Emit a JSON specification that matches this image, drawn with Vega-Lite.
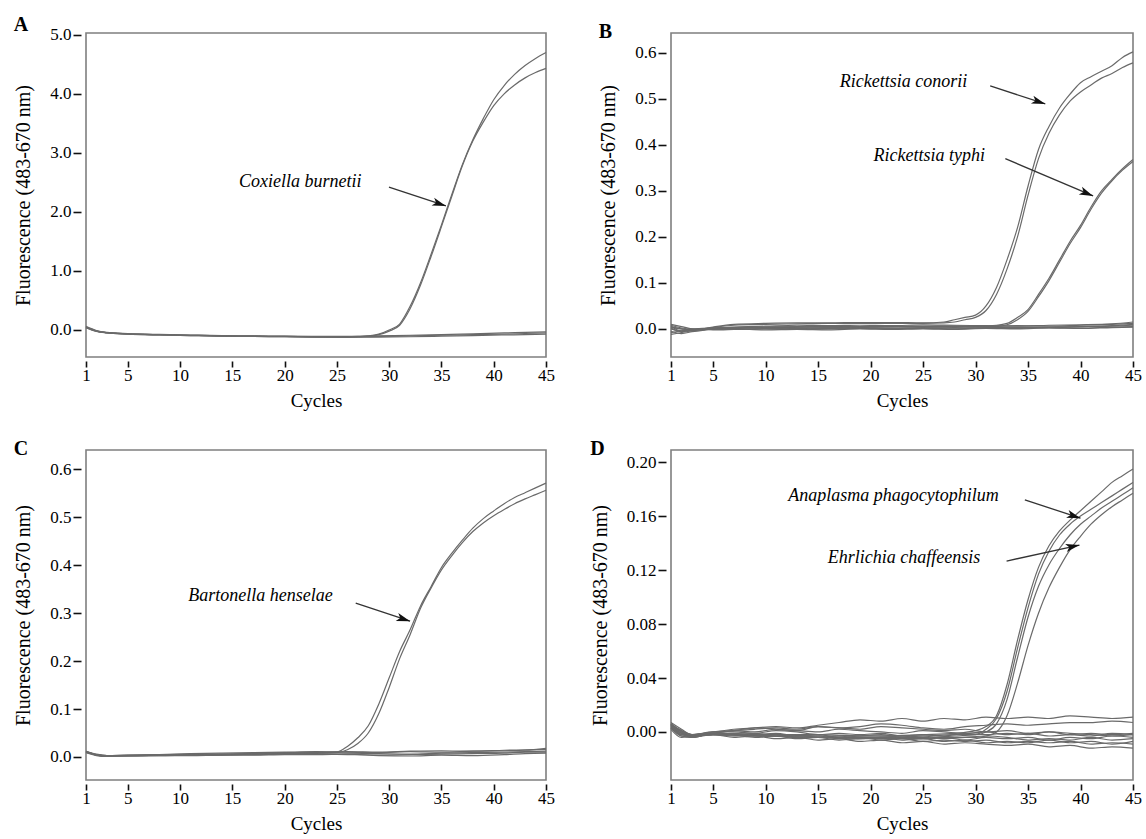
{
"$schema":"https://vega.github.io/schema/vega-lite/v6.json",
"background":"white",
"padding":{"left":12,"top":13,"right":0,"bottom":2},
"columns":2,
"spacing":{"row":27,"column":33},
"config":{
 "font":"Liberation Serif",
 "view":{"stroke":"#7f7f7f","strokeWidth":1.6},
 "axis":{"domain":false,"grid":false,"ticks":true,"tickColor":"#111","tickWidth":1.6,"labelColor":"#000","titleColor":"#000","labelFontSize":17,"titleFontSize":19,"titleFontWeight":"normal","labelFont":"Liberation Serif","titleFont":"Liberation Serif"},
 "axisX":{"tickSize":6,"offset":4,"labelPadding":0,"titlePadding":8,"labelFlush":false},
 "axisY":{"tickSize":8,"offset":5,"labelPadding":2,"titlePadding":16,"titleFontSize":20},
 "title":{"fontSize":20,"fontWeight":"bold","anchor":"start","frame":"bounds","color":"#000","font":"Liberation Serif","offset":-9}
},
"datasets":{
"notes":[
{"p":"A","t":"Coxiella burnetii","c":21.5,"v":2.51},
{"p":"B","t":"Rickettsia conorii","c":23.15,"v":0.537},
{"p":"B","t":"Rickettsia typhi","c":25.6,"v":0.376},
{"p":"C","t":"Bartonella henselae","c":17.7,"v":0.335},
{"p":"D","t":"Anaplasma phagocytophilum","c":22.2,"v":0.175},
{"p":"D","t":"Ehrlichia chaffeensis","c":23.2,"v":0.129}
],
"arrows":[
{"p":"A","id":"a","c":29.98,"v":2.42,"c2":35.43,"v2":2.10},
{"p":"B","id":"b1","c":31.4,"v":0.528,"c2":36.65,"v2":0.489},
{"p":"B","id":"b2","c":32.84,"v":0.37,"c2":41.2,"v2":0.289},
{"p":"C","id":"c","c":26.8,"v":0.321,"c2":32.0,"v2":0.283},
{"p":"D","id":"d1","c":34.7,"v":0.172,"c2":40.0,"v2":0.1585},
{"p":"D","id":"d2","c":32.96,"v":0.1267,"c2":39.9,"v2":0.1385}
],
"curves":[
{"p":"A","s":"A+1","c":1,"v":0.05},{"p":"A","s":"A+1","c":2,"v":-0.02},{"p":"A","s":"A+1","c":3,"v":-0.045},{"p":"A","s":"A+1","c":5,"v":-0.065},{"p":"A","s":"A+1","c":8,"v":-0.08},{"p":"A","s":"A+1","c":11,"v":-0.09},{"p":"A","s":"A+1","c":14,"v":-0.1},{"p":"A","s":"A+1","c":17,"v":-0.105},{"p":"A","s":"A+1","c":20,"v":-0.11},{"p":"A","s":"A+1","c":23,"v":-0.115},{"p":"A","s":"A+1","c":26,"v":-0.115},{"p":"A","s":"A+1","c":27,"v":-0.11},{"p":"A","s":"A+1","c":28,"v":-0.1},{"p":"A","s":"A+1","c":29,"v":-0.07},{"p":"A","s":"A+1","c":30,"v":0},{"p":"A","s":"A+1","c":31,"v":0.1},{"p":"A","s":"A+1","c":32,"v":0.4},{"p":"A","s":"A+1","c":33,"v":0.8},{"p":"A","s":"A+1","c":34,"v":1.28},{"p":"A","s":"A+1","c":35,"v":1.78},{"p":"A","s":"A+1","c":36,"v":2.3},{"p":"A","s":"A+1","c":37,"v":2.8},{"p":"A","s":"A+1","c":38,"v":3.22},{"p":"A","s":"A+1","c":39,"v":3.58},{"p":"A","s":"A+1","c":40,"v":3.9},{"p":"A","s":"A+1","c":41,"v":4.14},{"p":"A","s":"A+1","c":42,"v":4.33},{"p":"A","s":"A+1","c":43,"v":4.48},{"p":"A","s":"A+1","c":44,"v":4.6},{"p":"A","s":"A+1","c":45,"v":4.7},
{"p":"A","s":"A+2","c":1,"v":0.04},{"p":"A","s":"A+2","c":2,"v":-0.025},{"p":"A","s":"A+2","c":3,"v":-0.05},{"p":"A","s":"A+2","c":5,"v":-0.07},{"p":"A","s":"A+2","c":8,"v":-0.085},{"p":"A","s":"A+2","c":11,"v":-0.095},{"p":"A","s":"A+2","c":14,"v":-0.105},{"p":"A","s":"A+2","c":17,"v":-0.11},{"p":"A","s":"A+2","c":20,"v":-0.115},{"p":"A","s":"A+2","c":23,"v":-0.12},{"p":"A","s":"A+2","c":26,"v":-0.12},{"p":"A","s":"A+2","c":27,"v":-0.115},{"p":"A","s":"A+2","c":28,"v":-0.105},{"p":"A","s":"A+2","c":29,"v":-0.08},{"p":"A","s":"A+2","c":30,"v":-0.02},{"p":"A","s":"A+2","c":31,"v":0.08},{"p":"A","s":"A+2","c":32,"v":0.36},{"p":"A","s":"A+2","c":33,"v":0.76},{"p":"A","s":"A+2","c":34,"v":1.24},{"p":"A","s":"A+2","c":35,"v":1.75},{"p":"A","s":"A+2","c":36,"v":2.27},{"p":"A","s":"A+2","c":37,"v":2.78},{"p":"A","s":"A+2","c":38,"v":3.2},{"p":"A","s":"A+2","c":39,"v":3.52},{"p":"A","s":"A+2","c":40,"v":3.8},{"p":"A","s":"A+2","c":41,"v":4.0},{"p":"A","s":"A+2","c":42,"v":4.15},{"p":"A","s":"A+2","c":43,"v":4.27},{"p":"A","s":"A+2","c":44,"v":4.36},{"p":"A","s":"A+2","c":45,"v":4.43},
{"p":"A","s":"a1","c":1,"v":0.06},{"p":"A","s":"a1","c":2,"v":-0.01},{"p":"A","s":"a1","c":3,"v":-0.04},{"p":"A","s":"a1","c":5,"v":-0.06},{"p":"A","s":"a1","c":8,"v":-0.075},{"p":"A","s":"a1","c":11,"v":-0.085},{"p":"A","s":"a1","c":14,"v":-0.095},{"p":"A","s":"a1","c":17,"v":-0.1},{"p":"A","s":"a1","c":20,"v":-0.105},{"p":"A","s":"a1","c":23,"v":-0.11},{"p":"A","s":"a1","c":26,"v":-0.11},{"p":"A","s":"a1","c":29,"v":-0.1},{"p":"A","s":"a1","c":32,"v":-0.09},{"p":"A","s":"a1","c":35,"v":-0.08},{"p":"A","s":"a1","c":38,"v":-0.065},{"p":"A","s":"a1","c":41,"v":-0.05},{"p":"A","s":"a1","c":43,"v":-0.04},{"p":"A","s":"a1","c":45,"v":-0.03},
{"p":"A","s":"a2","c":1,"v":0.04},{"p":"A","s":"a2","c":2,"v":-0.02},{"p":"A","s":"a2","c":3,"v":-0.045},{"p":"A","s":"a2","c":5,"v":-0.065},{"p":"A","s":"a2","c":8,"v":-0.08},{"p":"A","s":"a2","c":11,"v":-0.09},{"p":"A","s":"a2","c":14,"v":-0.1},{"p":"A","s":"a2","c":17,"v":-0.105},{"p":"A","s":"a2","c":20,"v":-0.11},{"p":"A","s":"a2","c":23,"v":-0.115},{"p":"A","s":"a2","c":26,"v":-0.115},{"p":"A","s":"a2","c":29,"v":-0.11},{"p":"A","s":"a2","c":32,"v":-0.1},{"p":"A","s":"a2","c":35,"v":-0.09},{"p":"A","s":"a2","c":38,"v":-0.08},{"p":"A","s":"a2","c":41,"v":-0.07},{"p":"A","s":"a2","c":43,"v":-0.06},{"p":"A","s":"a2","c":45,"v":-0.05},
{"p":"A","s":"a3","c":1,"v":0.05},{"p":"A","s":"a3","c":2,"v":-0.015},{"p":"A","s":"a3","c":3,"v":-0.05},{"p":"A","s":"a3","c":5,"v":-0.07},{"p":"A","s":"a3","c":8,"v":-0.085},{"p":"A","s":"a3","c":11,"v":-0.095},{"p":"A","s":"a3","c":14,"v":-0.105},{"p":"A","s":"a3","c":17,"v":-0.11},{"p":"A","s":"a3","c":20,"v":-0.115},{"p":"A","s":"a3","c":23,"v":-0.12},{"p":"A","s":"a3","c":26,"v":-0.125},{"p":"A","s":"a3","c":29,"v":-0.12},{"p":"A","s":"a3","c":32,"v":-0.115},{"p":"A","s":"a3","c":35,"v":-0.105},{"p":"A","s":"a3","c":38,"v":-0.095},{"p":"A","s":"a3","c":41,"v":-0.085},{"p":"A","s":"a3","c":43,"v":-0.08},{"p":"A","s":"a3","c":45,"v":-0.07},
{"p":"B","s":"B+1","c":1,"v":0.006},{"p":"B","s":"B+1","c":2,"v":-0.004},{"p":"B","s":"B+1","c":3,"v":-0.002},{"p":"B","s":"B+1","c":4,"v":0},{"p":"B","s":"B+1","c":5,"v":0.004},{"p":"B","s":"B+1","c":7,"v":0.01},{"p":"B","s":"B+1","c":10,"v":0.012},{"p":"B","s":"B+1","c":13,"v":0.013},{"p":"B","s":"B+1","c":16,"v":0.013},{"p":"B","s":"B+1","c":19,"v":0.014},{"p":"B","s":"B+1","c":22,"v":0.014},{"p":"B","s":"B+1","c":25,"v":0.013},{"p":"B","s":"B+1","c":27,"v":0.015},{"p":"B","s":"B+1","c":28,"v":0.02},{"p":"B","s":"B+1","c":29,"v":0.025},{"p":"B","s":"B+1","c":30,"v":0.03},{"p":"B","s":"B+1","c":31,"v":0.05},{"p":"B","s":"B+1","c":32,"v":0.09},{"p":"B","s":"B+1","c":33,"v":0.15},{"p":"B","s":"B+1","c":34,"v":0.22},{"p":"B","s":"B+1","c":35,"v":0.31},{"p":"B","s":"B+1","c":36,"v":0.39},{"p":"B","s":"B+1","c":37,"v":0.44},{"p":"B","s":"B+1","c":38,"v":0.48},{"p":"B","s":"B+1","c":39,"v":0.51},{"p":"B","s":"B+1","c":40,"v":0.535},{"p":"B","s":"B+1","c":41,"v":0.548},{"p":"B","s":"B+1","c":42,"v":0.56},{"p":"B","s":"B+1","c":43,"v":0.572},{"p":"B","s":"B+1","c":44,"v":0.59},{"p":"B","s":"B+1","c":45,"v":0.602},
{"p":"B","s":"B+2","c":1,"v":0.002},{"p":"B","s":"B+2","c":2,"v":-0.006},{"p":"B","s":"B+2","c":3,"v":-0.003},{"p":"B","s":"B+2","c":4,"v":0},{"p":"B","s":"B+2","c":5,"v":0.003},{"p":"B","s":"B+2","c":7,"v":0.008},{"p":"B","s":"B+2","c":10,"v":0.01},{"p":"B","s":"B+2","c":13,"v":0.011},{"p":"B","s":"B+2","c":16,"v":0.012},{"p":"B","s":"B+2","c":19,"v":0.012},{"p":"B","s":"B+2","c":22,"v":0.012},{"p":"B","s":"B+2","c":25,"v":0.012},{"p":"B","s":"B+2","c":27,"v":0.013},{"p":"B","s":"B+2","c":28,"v":0.015},{"p":"B","s":"B+2","c":29,"v":0.02},{"p":"B","s":"B+2","c":30,"v":0.025},{"p":"B","s":"B+2","c":31,"v":0.04},{"p":"B","s":"B+2","c":32,"v":0.075},{"p":"B","s":"B+2","c":33,"v":0.13},{"p":"B","s":"B+2","c":34,"v":0.2},{"p":"B","s":"B+2","c":35,"v":0.29},{"p":"B","s":"B+2","c":36,"v":0.37},{"p":"B","s":"B+2","c":37,"v":0.425},{"p":"B","s":"B+2","c":38,"v":0.465},{"p":"B","s":"B+2","c":39,"v":0.495},{"p":"B","s":"B+2","c":40,"v":0.515},{"p":"B","s":"B+2","c":41,"v":0.53},{"p":"B","s":"B+2","c":42,"v":0.545},{"p":"B","s":"B+2","c":43,"v":0.555},{"p":"B","s":"B+2","c":44,"v":0.568},{"p":"B","s":"B+2","c":45,"v":0.578},
{"p":"B","s":"B+3","c":1,"v":0.004},{"p":"B","s":"B+3","c":2,"v":0},{"p":"B","s":"B+3","c":3,"v":-0.002},{"p":"B","s":"B+3","c":5,"v":0.002},{"p":"B","s":"B+3","c":10,"v":0.004},{"p":"B","s":"B+3","c":15,"v":0.005},{"p":"B","s":"B+3","c":20,"v":0.005},{"p":"B","s":"B+3","c":25,"v":0.006},{"p":"B","s":"B+3","c":30,"v":0.006},{"p":"B","s":"B+3","c":32,"v":0.008},{"p":"B","s":"B+3","c":33,"v":0.012},{"p":"B","s":"B+3","c":34,"v":0.025},{"p":"B","s":"B+3","c":35,"v":0.042},{"p":"B","s":"B+3","c":36,"v":0.075},{"p":"B","s":"B+3","c":37,"v":0.11},{"p":"B","s":"B+3","c":38,"v":0.15},{"p":"B","s":"B+3","c":39,"v":0.19},{"p":"B","s":"B+3","c":40,"v":0.225},{"p":"B","s":"B+3","c":41,"v":0.265},{"p":"B","s":"B+3","c":42,"v":0.3},{"p":"B","s":"B+3","c":43,"v":0.325},{"p":"B","s":"B+3","c":44,"v":0.348},{"p":"B","s":"B+3","c":45,"v":0.368},
{"p":"B","s":"B+4","c":1,"v":-0.008},{"p":"B","s":"B+4","c":2,"v":-0.004},{"p":"B","s":"B+4","c":3,"v":-0.001},{"p":"B","s":"B+4","c":5,"v":0.001},{"p":"B","s":"B+4","c":10,"v":0.003},{"p":"B","s":"B+4","c":15,"v":0.004},{"p":"B","s":"B+4","c":20,"v":0.004},{"p":"B","s":"B+4","c":25,"v":0.005},{"p":"B","s":"B+4","c":30,"v":0.005},{"p":"B","s":"B+4","c":32,"v":0.006},{"p":"B","s":"B+4","c":33,"v":0.009},{"p":"B","s":"B+4","c":34,"v":0.02},{"p":"B","s":"B+4","c":35,"v":0.038},{"p":"B","s":"B+4","c":36,"v":0.07},{"p":"B","s":"B+4","c":37,"v":0.105},{"p":"B","s":"B+4","c":38,"v":0.145},{"p":"B","s":"B+4","c":39,"v":0.185},{"p":"B","s":"B+4","c":40,"v":0.22},{"p":"B","s":"B+4","c":41,"v":0.26},{"p":"B","s":"B+4","c":42,"v":0.295},{"p":"B","s":"B+4","c":43,"v":0.322},{"p":"B","s":"B+4","c":44,"v":0.345},{"p":"B","s":"B+4","c":45,"v":0.364},
{"p":"B","s":"b1","c":1,"v":0.01},{"p":"B","s":"b1","c":2,"v":0.005},{"p":"B","s":"b1","c":3,"v":0},{"p":"B","s":"b1","c":4,"v":-0.002},{"p":"B","s":"b1","c":5,"v":0},{"p":"B","s":"b1","c":7,"v":0.001},{"p":"B","s":"b1","c":10,"v":0.002},{"p":"B","s":"b1","c":13,"v":0.001},{"p":"B","s":"b1","c":16,"v":0.002},{"p":"B","s":"b1","c":19,"v":0.003},{"p":"B","s":"b1","c":22,"v":0.002},{"p":"B","s":"b1","c":25,"v":0.003},{"p":"B","s":"b1","c":28,"v":0.002},{"p":"B","s":"b1","c":31,"v":0.003},{"p":"B","s":"b1","c":34,"v":0.004},{"p":"B","s":"b1","c":37,"v":0.003},{"p":"B","s":"b1","c":40,"v":0.005},{"p":"B","s":"b1","c":43,"v":0.006},{"p":"B","s":"b1","c":45,"v":0.008},
{"p":"B","s":"b2","c":1,"v":-0.012},{"p":"B","s":"b2","c":2,"v":-0.008},{"p":"B","s":"b2","c":3,"v":-0.004},{"p":"B","s":"b2","c":4,"v":-0.001},{"p":"B","s":"b2","c":5,"v":0},{"p":"B","s":"b2","c":7,"v":-0.001},{"p":"B","s":"b2","c":10,"v":0},{"p":"B","s":"b2","c":13,"v":-0.001},{"p":"B","s":"b2","c":16,"v":0},{"p":"B","s":"b2","c":19,"v":0.001},{"p":"B","s":"b2","c":22,"v":0},{"p":"B","s":"b2","c":25,"v":0.001},{"p":"B","s":"b2","c":28,"v":0},{"p":"B","s":"b2","c":31,"v":0.002},{"p":"B","s":"b2","c":34,"v":0.001},{"p":"B","s":"b2","c":37,"v":0.003},{"p":"B","s":"b2","c":40,"v":0.002},{"p":"B","s":"b2","c":43,"v":0.004},{"p":"B","s":"b2","c":45,"v":0.005},
{"p":"B","s":"b3","c":1,"v":0.005},{"p":"B","s":"b3","c":2,"v":0},{"p":"B","s":"b3","c":3,"v":-0.003},{"p":"B","s":"b3","c":4,"v":-0.002},{"p":"B","s":"b3","c":5,"v":0.001},{"p":"B","s":"b3","c":7,"v":0.003},{"p":"B","s":"b3","c":10,"v":0.004},{"p":"B","s":"b3","c":13,"v":0.005},{"p":"B","s":"b3","c":16,"v":0.004},{"p":"B","s":"b3","c":19,"v":0.005},{"p":"B","s":"b3","c":22,"v":0.006},{"p":"B","s":"b3","c":25,"v":0.005},{"p":"B","s":"b3","c":28,"v":0.006},{"p":"B","s":"b3","c":31,"v":0.005},{"p":"B","s":"b3","c":34,"v":0.007},{"p":"B","s":"b3","c":37,"v":0.006},{"p":"B","s":"b3","c":40,"v":0.008},{"p":"B","s":"b3","c":43,"v":0.01},{"p":"B","s":"b3","c":45,"v":0.012},
{"p":"B","s":"b4","c":1,"v":-0.005},{"p":"B","s":"b4","c":2,"v":-0.01},{"p":"B","s":"b4","c":3,"v":-0.006},{"p":"B","s":"b4","c":4,"v":-0.003},{"p":"B","s":"b4","c":5,"v":-0.001},{"p":"B","s":"b4","c":7,"v":0},{"p":"B","s":"b4","c":10,"v":-0.002},{"p":"B","s":"b4","c":13,"v":-0.001},{"p":"B","s":"b4","c":16,"v":-0.002},{"p":"B","s":"b4","c":19,"v":0},{"p":"B","s":"b4","c":22,"v":-0.001},{"p":"B","s":"b4","c":25,"v":0},{"p":"B","s":"b4","c":28,"v":-0.001},{"p":"B","s":"b4","c":31,"v":0.001},{"p":"B","s":"b4","c":34,"v":0},{"p":"B","s":"b4","c":37,"v":0.002},{"p":"B","s":"b4","c":40,"v":0.001},{"p":"B","s":"b4","c":43,"v":0.003},{"p":"B","s":"b4","c":45,"v":0.004},
{"p":"B","s":"b5","c":1,"v":0.008},{"p":"B","s":"b5","c":2,"v":0.002},{"p":"B","s":"b5","c":3,"v":0},{"p":"B","s":"b5","c":4,"v":0.001},{"p":"B","s":"b5","c":5,"v":0.002},{"p":"B","s":"b5","c":7,"v":0.004},{"p":"B","s":"b5","c":10,"v":0.006},{"p":"B","s":"b5","c":13,"v":0.008},{"p":"B","s":"b5","c":16,"v":0.007},{"p":"B","s":"b5","c":19,"v":0.008},{"p":"B","s":"b5","c":22,"v":0.007},{"p":"B","s":"b5","c":25,"v":0.009},{"p":"B","s":"b5","c":28,"v":0.008},{"p":"B","s":"b5","c":31,"v":0.007},{"p":"B","s":"b5","c":34,"v":0.006},{"p":"B","s":"b5","c":37,"v":0.008},{"p":"B","s":"b5","c":40,"v":0.009},{"p":"B","s":"b5","c":43,"v":0.011},{"p":"B","s":"b5","c":45,"v":0.015},
{"p":"B","s":"b6","c":1,"v":0},{"p":"B","s":"b6","c":2,"v":-0.005},{"p":"B","s":"b6","c":3,"v":-0.002},{"p":"B","s":"b6","c":4,"v":0},{"p":"B","s":"b6","c":5,"v":-0.002},{"p":"B","s":"b6","c":7,"v":-0.001},{"p":"B","s":"b6","c":10,"v":0.001},{"p":"B","s":"b6","c":13,"v":0},{"p":"B","s":"b6","c":16,"v":0.001},{"p":"B","s":"b6","c":19,"v":0.002},{"p":"B","s":"b6","c":22,"v":0.001},{"p":"B","s":"b6","c":25,"v":0.002},{"p":"B","s":"b6","c":28,"v":0.003},{"p":"B","s":"b6","c":31,"v":0.002},{"p":"B","s":"b6","c":34,"v":0.003},{"p":"B","s":"b6","c":37,"v":0.004},{"p":"B","s":"b6","c":40,"v":0.005},{"p":"B","s":"b6","c":43,"v":0.007},{"p":"B","s":"b6","c":45,"v":0.01},
{"p":"C","s":"C+1","c":1,"v":0.012},{"p":"C","s":"C+1","c":2,"v":0.005},{"p":"C","s":"C+1","c":3,"v":0.003},{"p":"C","s":"C+1","c":5,"v":0.004},{"p":"C","s":"C+1","c":10,"v":0.005},{"p":"C","s":"C+1","c":15,"v":0.006},{"p":"C","s":"C+1","c":20,"v":0.008},{"p":"C","s":"C+1","c":24,"v":0.009},{"p":"C","s":"C+1","c":25,"v":0.01},{"p":"C","s":"C+1","c":26,"v":0.022},{"p":"C","s":"C+1","c":27,"v":0.04},{"p":"C","s":"C+1","c":28,"v":0.065},{"p":"C","s":"C+1","c":29,"v":0.11},{"p":"C","s":"C+1","c":30,"v":0.165},{"p":"C","s":"C+1","c":31,"v":0.22},{"p":"C","s":"C+1","c":32,"v":0.265},{"p":"C","s":"C+1","c":33,"v":0.315},{"p":"C","s":"C+1","c":34,"v":0.355},{"p":"C","s":"C+1","c":35,"v":0.395},{"p":"C","s":"C+1","c":36,"v":0.425},{"p":"C","s":"C+1","c":37,"v":0.452},{"p":"C","s":"C+1","c":38,"v":0.477},{"p":"C","s":"C+1","c":39,"v":0.497},{"p":"C","s":"C+1","c":40,"v":0.513},{"p":"C","s":"C+1","c":41,"v":0.528},{"p":"C","s":"C+1","c":42,"v":0.541},{"p":"C","s":"C+1","c":43,"v":0.551},{"p":"C","s":"C+1","c":44,"v":0.561},{"p":"C","s":"C+1","c":45,"v":0.571},
{"p":"C","s":"C+2","c":1,"v":0.01},{"p":"C","s":"C+2","c":2,"v":0.004},{"p":"C","s":"C+2","c":3,"v":0.002},{"p":"C","s":"C+2","c":5,"v":0.003},{"p":"C","s":"C+2","c":10,"v":0.004},{"p":"C","s":"C+2","c":15,"v":0.005},{"p":"C","s":"C+2","c":20,"v":0.007},{"p":"C","s":"C+2","c":24,"v":0.008},{"p":"C","s":"C+2","c":25,"v":0.009},{"p":"C","s":"C+2","c":26,"v":0.015},{"p":"C","s":"C+2","c":27,"v":0.028},{"p":"C","s":"C+2","c":28,"v":0.05},{"p":"C","s":"C+2","c":29,"v":0.09},{"p":"C","s":"C+2","c":30,"v":0.145},{"p":"C","s":"C+2","c":31,"v":0.205},{"p":"C","s":"C+2","c":32,"v":0.255},{"p":"C","s":"C+2","c":33,"v":0.31},{"p":"C","s":"C+2","c":34,"v":0.352},{"p":"C","s":"C+2","c":35,"v":0.39},{"p":"C","s":"C+2","c":36,"v":0.42},{"p":"C","s":"C+2","c":37,"v":0.447},{"p":"C","s":"C+2","c":38,"v":0.47},{"p":"C","s":"C+2","c":39,"v":0.488},{"p":"C","s":"C+2","c":40,"v":0.503},{"p":"C","s":"C+2","c":41,"v":0.516},{"p":"C","s":"C+2","c":42,"v":0.528},{"p":"C","s":"C+2","c":43,"v":0.538},{"p":"C","s":"C+2","c":44,"v":0.547},{"p":"C","s":"C+2","c":45,"v":0.556},
{"p":"C","s":"c1","c":1,"v":0.012},{"p":"C","s":"c1","c":2,"v":0.006},{"p":"C","s":"c1","c":3,"v":0.003},{"p":"C","s":"c1","c":5,"v":0.003},{"p":"C","s":"c1","c":8,"v":0.004},{"p":"C","s":"c1","c":11,"v":0.005},{"p":"C","s":"c1","c":14,"v":0.006},{"p":"C","s":"c1","c":17,"v":0.007},{"p":"C","s":"c1","c":20,"v":0.008},{"p":"C","s":"c1","c":23,"v":0.009},{"p":"C","s":"c1","c":26,"v":0.008},{"p":"C","s":"c1","c":29,"v":0.007},{"p":"C","s":"c1","c":32,"v":0.006},{"p":"C","s":"c1","c":35,"v":0.008},{"p":"C","s":"c1","c":38,"v":0.009},{"p":"C","s":"c1","c":41,"v":0.01},{"p":"C","s":"c1","c":43,"v":0.011},{"p":"C","s":"c1","c":45,"v":0.012},
{"p":"C","s":"c2","c":1,"v":0.01},{"p":"C","s":"c2","c":2,"v":0.004},{"p":"C","s":"c2","c":3,"v":0.002},{"p":"C","s":"c2","c":5,"v":0.003},{"p":"C","s":"c2","c":8,"v":0.003},{"p":"C","s":"c2","c":11,"v":0.004},{"p":"C","s":"c2","c":14,"v":0.004},{"p":"C","s":"c2","c":17,"v":0.005},{"p":"C","s":"c2","c":20,"v":0.006},{"p":"C","s":"c2","c":23,"v":0.006},{"p":"C","s":"c2","c":26,"v":0.005},{"p":"C","s":"c2","c":29,"v":0.004},{"p":"C","s":"c2","c":32,"v":0.005},{"p":"C","s":"c2","c":35,"v":0.006},{"p":"C","s":"c2","c":38,"v":0.007},{"p":"C","s":"c2","c":41,"v":0.008},{"p":"C","s":"c2","c":43,"v":0.01},{"p":"C","s":"c2","c":45,"v":0.01},
{"p":"C","s":"c3","c":1,"v":0.011},{"p":"C","s":"c3","c":2,"v":0.005},{"p":"C","s":"c3","c":3,"v":0.002},{"p":"C","s":"c3","c":5,"v":0.002},{"p":"C","s":"c3","c":8,"v":0.004},{"p":"C","s":"c3","c":11,"v":0.006},{"p":"C","s":"c3","c":14,"v":0.005},{"p":"C","s":"c3","c":17,"v":0.007},{"p":"C","s":"c3","c":20,"v":0.009},{"p":"C","s":"c3","c":23,"v":0.01},{"p":"C","s":"c3","c":26,"v":0.011},{"p":"C","s":"c3","c":29,"v":0.01},{"p":"C","s":"c3","c":32,"v":0.012},{"p":"C","s":"c3","c":35,"v":0.013},{"p":"C","s":"c3","c":38,"v":0.012},{"p":"C","s":"c3","c":41,"v":0.014},{"p":"C","s":"c3","c":43,"v":0.015},{"p":"C","s":"c3","c":45,"v":0.016},
{"p":"C","s":"c4","c":1,"v":0.009},{"p":"C","s":"c4","c":2,"v":0.003},{"p":"C","s":"c4","c":3,"v":0.001},{"p":"C","s":"c4","c":5,"v":0.002},{"p":"C","s":"c4","c":8,"v":0.003},{"p":"C","s":"c4","c":11,"v":0.003},{"p":"C","s":"c4","c":14,"v":0.004},{"p":"C","s":"c4","c":17,"v":0.004},{"p":"C","s":"c4","c":20,"v":0.005},{"p":"C","s":"c4","c":23,"v":0.005},{"p":"C","s":"c4","c":26,"v":0.006},{"p":"C","s":"c4","c":29,"v":0.003},{"p":"C","s":"c4","c":32,"v":0.002},{"p":"C","s":"c4","c":35,"v":0.004},{"p":"C","s":"c4","c":38,"v":0.003},{"p":"C","s":"c4","c":41,"v":0.005},{"p":"C","s":"c4","c":43,"v":0.007},{"p":"C","s":"c4","c":45,"v":0.008},
{"p":"C","s":"c5","c":1,"v":0.012},{"p":"C","s":"c5","c":2,"v":0.005},{"p":"C","s":"c5","c":3,"v":0.003},{"p":"C","s":"c5","c":5,"v":0.004},{"p":"C","s":"c5","c":8,"v":0.005},{"p":"C","s":"c5","c":11,"v":0.007},{"p":"C","s":"c5","c":14,"v":0.008},{"p":"C","s":"c5","c":17,"v":0.009},{"p":"C","s":"c5","c":20,"v":0.01},{"p":"C","s":"c5","c":23,"v":0.011},{"p":"C","s":"c5","c":26,"v":0.01},{"p":"C","s":"c5","c":29,"v":0.009},{"p":"C","s":"c5","c":32,"v":0.011},{"p":"C","s":"c5","c":35,"v":0.01},{"p":"C","s":"c5","c":38,"v":0.012},{"p":"C","s":"c5","c":41,"v":0.013},{"p":"C","s":"c5","c":43,"v":0.014},{"p":"C","s":"c5","c":45,"v":0.018},
{"p":"D","s":"D+1","c":1,"v":0.006},{"p":"D","s":"D+1","c":2,"v":0},{"p":"D","s":"D+1","c":3,"v":-0.003},{"p":"D","s":"D+1","c":5,"v":-0.001},{"p":"D","s":"D+1","c":10,"v":-0.002},{"p":"D","s":"D+1","c":15,"v":-0.003},{"p":"D","s":"D+1","c":20,"v":-0.003},{"p":"D","s":"D+1","c":25,"v":-0.002},{"p":"D","s":"D+1","c":28,"v":-0.001},{"p":"D","s":"D+1","c":30,"v":0.001},{"p":"D","s":"D+1","c":31,"v":0.004},{"p":"D","s":"D+1","c":32,"v":0.012},{"p":"D","s":"D+1","c":33,"v":0.035},{"p":"D","s":"D+1","c":34,"v":0.068},{"p":"D","s":"D+1","c":35,"v":0.098},{"p":"D","s":"D+1","c":36,"v":0.122},{"p":"D","s":"D+1","c":37,"v":0.138},{"p":"D","s":"D+1","c":38,"v":0.149},{"p":"D","s":"D+1","c":39,"v":0.157},{"p":"D","s":"D+1","c":40,"v":0.164},{"p":"D","s":"D+1","c":41,"v":0.171},{"p":"D","s":"D+1","c":42,"v":0.178},{"p":"D","s":"D+1","c":43,"v":0.185},{"p":"D","s":"D+1","c":44,"v":0.19},{"p":"D","s":"D+1","c":45,"v":0.195},
{"p":"D","s":"D+2","c":1,"v":0.004},{"p":"D","s":"D+2","c":2,"v":-0.002},{"p":"D","s":"D+2","c":3,"v":-0.003},{"p":"D","s":"D+2","c":5,"v":-0.002},{"p":"D","s":"D+2","c":10,"v":-0.003},{"p":"D","s":"D+2","c":15,"v":-0.004},{"p":"D","s":"D+2","c":20,"v":-0.004},{"p":"D","s":"D+2","c":25,"v":-0.004},{"p":"D","s":"D+2","c":28,"v":-0.003},{"p":"D","s":"D+2","c":30,"v":-0.002},{"p":"D","s":"D+2","c":31,"v":0.002},{"p":"D","s":"D+2","c":32,"v":0.01},{"p":"D","s":"D+2","c":33,"v":0.03},{"p":"D","s":"D+2","c":34,"v":0.062},{"p":"D","s":"D+2","c":35,"v":0.092},{"p":"D","s":"D+2","c":36,"v":0.117},{"p":"D","s":"D+2","c":37,"v":0.134},{"p":"D","s":"D+2","c":38,"v":0.146},{"p":"D","s":"D+2","c":39,"v":0.154},{"p":"D","s":"D+2","c":40,"v":0.16},{"p":"D","s":"D+2","c":41,"v":0.165},{"p":"D","s":"D+2","c":42,"v":0.17},{"p":"D","s":"D+2","c":43,"v":0.175},{"p":"D","s":"D+2","c":44,"v":0.18},{"p":"D","s":"D+2","c":45,"v":0.185},
{"p":"D","s":"D+3","c":1,"v":0.005},{"p":"D","s":"D+3","c":2,"v":-0.001},{"p":"D","s":"D+3","c":3,"v":-0.002},{"p":"D","s":"D+3","c":5,"v":-0.001},{"p":"D","s":"D+3","c":10,"v":-0.002},{"p":"D","s":"D+3","c":15,"v":-0.002},{"p":"D","s":"D+3","c":20,"v":-0.003},{"p":"D","s":"D+3","c":25,"v":-0.003},{"p":"D","s":"D+3","c":28,"v":-0.002},{"p":"D","s":"D+3","c":30,"v":-0.002},{"p":"D","s":"D+3","c":31,"v":0},{"p":"D","s":"D+3","c":32,"v":0.006},{"p":"D","s":"D+3","c":33,"v":0.024},{"p":"D","s":"D+3","c":34,"v":0.055},{"p":"D","s":"D+3","c":35,"v":0.085},{"p":"D","s":"D+3","c":36,"v":0.108},{"p":"D","s":"D+3","c":37,"v":0.124},{"p":"D","s":"D+3","c":38,"v":0.136},{"p":"D","s":"D+3","c":39,"v":0.146},{"p":"D","s":"D+3","c":40,"v":0.154},{"p":"D","s":"D+3","c":41,"v":0.16},{"p":"D","s":"D+3","c":42,"v":0.166},{"p":"D","s":"D+3","c":43,"v":0.171},{"p":"D","s":"D+3","c":44,"v":0.176},{"p":"D","s":"D+3","c":45,"v":0.181},
{"p":"D","s":"D+4","c":1,"v":0.003},{"p":"D","s":"D+4","c":2,"v":-0.003},{"p":"D","s":"D+4","c":3,"v":-0.004},{"p":"D","s":"D+4","c":5,"v":-0.002},{"p":"D","s":"D+4","c":10,"v":-0.003},{"p":"D","s":"D+4","c":15,"v":-0.004},{"p":"D","s":"D+4","c":20,"v":-0.005},{"p":"D","s":"D+4","c":25,"v":-0.005},{"p":"D","s":"D+4","c":28,"v":-0.004},{"p":"D","s":"D+4","c":30,"v":-0.004},{"p":"D","s":"D+4","c":31,"v":-0.003},{"p":"D","s":"D+4","c":32,"v":0},{"p":"D","s":"D+4","c":33,"v":0.012},{"p":"D","s":"D+4","c":34,"v":0.036},{"p":"D","s":"D+4","c":35,"v":0.064},{"p":"D","s":"D+4","c":36,"v":0.088},{"p":"D","s":"D+4","c":37,"v":0.107},{"p":"D","s":"D+4","c":38,"v":0.122},{"p":"D","s":"D+4","c":39,"v":0.135},{"p":"D","s":"D+4","c":40,"v":0.145},{"p":"D","s":"D+4","c":41,"v":0.154},{"p":"D","s":"D+4","c":42,"v":0.161},{"p":"D","s":"D+4","c":43,"v":0.167},{"p":"D","s":"D+4","c":44,"v":0.172},{"p":"D","s":"D+4","c":45,"v":0.177},
{"p":"D","s":"n1","c":1,"v":0.006},{"p":"D","s":"n1","c":2,"v":0.001},{"p":"D","s":"n1","c":3,"v":-0.002},{"p":"D","s":"n1","c":5,"v":0},{"p":"D","s":"n1","c":7,"v":0.002},{"p":"D","s":"n1","c":9,"v":0.003},{"p":"D","s":"n1","c":11,"v":0.004},{"p":"D","s":"n1","c":13,"v":0.003},{"p":"D","s":"n1","c":15,"v":0.005},{"p":"D","s":"n1","c":17,"v":0.007},{"p":"D","s":"n1","c":19,"v":0.009},{"p":"D","s":"n1","c":21,"v":0.008},{"p":"D","s":"n1","c":23,"v":0.01},{"p":"D","s":"n1","c":25,"v":0.008},{"p":"D","s":"n1","c":27,"v":0.01},{"p":"D","s":"n1","c":29,"v":0.009},{"p":"D","s":"n1","c":31,"v":0.011},{"p":"D","s":"n1","c":33,"v":0.01},{"p":"D","s":"n1","c":35,"v":0.011},{"p":"D","s":"n1","c":37,"v":0.01},{"p":"D","s":"n1","c":39,"v":0.012},{"p":"D","s":"n1","c":41,"v":0.011},{"p":"D","s":"n1","c":43,"v":0.01},{"p":"D","s":"n1","c":45,"v":0.011},
{"p":"D","s":"n2","c":1,"v":0.004},{"p":"D","s":"n2","c":2,"v":-0.001},{"p":"D","s":"n2","c":3,"v":-0.003},{"p":"D","s":"n2","c":5,"v":-0.001},{"p":"D","s":"n2","c":7,"v":0.001},{"p":"D","s":"n2","c":9,"v":0.003},{"p":"D","s":"n2","c":11,"v":0.002},{"p":"D","s":"n2","c":13,"v":0.001},{"p":"D","s":"n2","c":15,"v":0.004},{"p":"D","s":"n2","c":17,"v":0.003},{"p":"D","s":"n2","c":19,"v":0.004},{"p":"D","s":"n2","c":21,"v":0.006},{"p":"D","s":"n2","c":23,"v":0.005},{"p":"D","s":"n2","c":25,"v":0.003},{"p":"D","s":"n2","c":27,"v":0.002},{"p":"D","s":"n2","c":29,"v":0.004},{"p":"D","s":"n2","c":31,"v":0.005},{"p":"D","s":"n2","c":33,"v":0.006},{"p":"D","s":"n2","c":35,"v":0.005},{"p":"D","s":"n2","c":37,"v":0.006},{"p":"D","s":"n2","c":39,"v":0.007},{"p":"D","s":"n2","c":41,"v":0.007},{"p":"D","s":"n2","c":43,"v":0.008},{"p":"D","s":"n2","c":45,"v":0.007},
{"p":"D","s":"n3","c":1,"v":0.007},{"p":"D","s":"n3","c":2,"v":0.002},{"p":"D","s":"n3","c":3,"v":-0.002},{"p":"D","s":"n3","c":5,"v":0},{"p":"D","s":"n3","c":7,"v":0},{"p":"D","s":"n3","c":9,"v":-0.001},{"p":"D","s":"n3","c":11,"v":0.001},{"p":"D","s":"n3","c":13,"v":0},{"p":"D","s":"n3","c":15,"v":-0.002},{"p":"D","s":"n3","c":17,"v":-0.001},{"p":"D","s":"n3","c":19,"v":-0.002},{"p":"D","s":"n3","c":21,"v":-0.001},{"p":"D","s":"n3","c":23,"v":-0.003},{"p":"D","s":"n3","c":25,"v":-0.002},{"p":"D","s":"n3","c":27,"v":-0.003},{"p":"D","s":"n3","c":29,"v":-0.001},{"p":"D","s":"n3","c":31,"v":-0.002},{"p":"D","s":"n3","c":33,"v":-0.001},{"p":"D","s":"n3","c":35,"v":-0.002},{"p":"D","s":"n3","c":37,"v":0},{"p":"D","s":"n3","c":39,"v":-0.002},{"p":"D","s":"n3","c":41,"v":-0.001},{"p":"D","s":"n3","c":43,"v":-0.002},{"p":"D","s":"n3","c":45,"v":-0.001},
{"p":"D","s":"n4","c":1,"v":0.003},{"p":"D","s":"n4","c":2,"v":-0.003},{"p":"D","s":"n4","c":3,"v":-0.004},{"p":"D","s":"n4","c":5,"v":-0.001},{"p":"D","s":"n4","c":7,"v":-0.002},{"p":"D","s":"n4","c":9,"v":-0.001},{"p":"D","s":"n4","c":11,"v":-0.003},{"p":"D","s":"n4","c":13,"v":-0.002},{"p":"D","s":"n4","c":15,"v":-0.004},{"p":"D","s":"n4","c":17,"v":-0.003},{"p":"D","s":"n4","c":19,"v":-0.005},{"p":"D","s":"n4","c":21,"v":-0.004},{"p":"D","s":"n4","c":23,"v":-0.003},{"p":"D","s":"n4","c":25,"v":-0.005},{"p":"D","s":"n4","c":27,"v":-0.004},{"p":"D","s":"n4","c":29,"v":-0.006},{"p":"D","s":"n4","c":31,"v":-0.004},{"p":"D","s":"n4","c":33,"v":-0.005},{"p":"D","s":"n4","c":35,"v":-0.004},{"p":"D","s":"n4","c":37,"v":-0.006},{"p":"D","s":"n4","c":39,"v":-0.004},{"p":"D","s":"n4","c":41,"v":-0.005},{"p":"D","s":"n4","c":43,"v":-0.003},{"p":"D","s":"n4","c":45,"v":-0.004},
{"p":"D","s":"n5","c":1,"v":0.005},{"p":"D","s":"n5","c":2,"v":0},{"p":"D","s":"n5","c":3,"v":-0.003},{"p":"D","s":"n5","c":5,"v":-0.002},{"p":"D","s":"n5","c":7,"v":-0.001},{"p":"D","s":"n5","c":9,"v":-0.003},{"p":"D","s":"n5","c":11,"v":-0.002},{"p":"D","s":"n5","c":13,"v":-0.004},{"p":"D","s":"n5","c":15,"v":-0.003},{"p":"D","s":"n5","c":17,"v":-0.005},{"p":"D","s":"n5","c":19,"v":-0.004},{"p":"D","s":"n5","c":21,"v":-0.006},{"p":"D","s":"n5","c":23,"v":-0.005},{"p":"D","s":"n5","c":25,"v":-0.007},{"p":"D","s":"n5","c":27,"v":-0.006},{"p":"D","s":"n5","c":29,"v":-0.007},{"p":"D","s":"n5","c":31,"v":-0.006},{"p":"D","s":"n5","c":33,"v":-0.008},{"p":"D","s":"n5","c":35,"v":-0.007},{"p":"D","s":"n5","c":37,"v":-0.008},{"p":"D","s":"n5","c":39,"v":-0.007},{"p":"D","s":"n5","c":41,"v":-0.009},{"p":"D","s":"n5","c":43,"v":-0.008},{"p":"D","s":"n5","c":45,"v":-0.009},
{"p":"D","s":"n6","c":1,"v":0.002},{"p":"D","s":"n6","c":2,"v":-0.004},{"p":"D","s":"n6","c":3,"v":-0.003},{"p":"D","s":"n6","c":5,"v":-0.002},{"p":"D","s":"n6","c":7,"v":-0.004},{"p":"D","s":"n6","c":9,"v":-0.003},{"p":"D","s":"n6","c":11,"v":-0.005},{"p":"D","s":"n6","c":13,"v":-0.004},{"p":"D","s":"n6","c":15,"v":-0.006},{"p":"D","s":"n6","c":17,"v":-0.005},{"p":"D","s":"n6","c":19,"v":-0.007},{"p":"D","s":"n6","c":21,"v":-0.006},{"p":"D","s":"n6","c":23,"v":-0.008},{"p":"D","s":"n6","c":25,"v":-0.007},{"p":"D","s":"n6","c":27,"v":-0.009},{"p":"D","s":"n6","c":29,"v":-0.008},{"p":"D","s":"n6","c":31,"v":-0.009},{"p":"D","s":"n6","c":33,"v":-0.01},{"p":"D","s":"n6","c":35,"v":-0.009},{"p":"D","s":"n6","c":37,"v":-0.011},{"p":"D","s":"n6","c":39,"v":-0.01},{"p":"D","s":"n6","c":41,"v":-0.012},{"p":"D","s":"n6","c":43,"v":-0.011},{"p":"D","s":"n6","c":45,"v":-0.012},
{"p":"D","s":"n7","c":1,"v":0.006},{"p":"D","s":"n7","c":2,"v":0.001},{"p":"D","s":"n7","c":3,"v":-0.002},{"p":"D","s":"n7","c":5,"v":-0.001},{"p":"D","s":"n7","c":7,"v":0.001},{"p":"D","s":"n7","c":9,"v":0},{"p":"D","s":"n7","c":11,"v":0.002},{"p":"D","s":"n7","c":13,"v":0.001},{"p":"D","s":"n7","c":15,"v":0},{"p":"D","s":"n7","c":17,"v":0.002},{"p":"D","s":"n7","c":19,"v":0.001},{"p":"D","s":"n7","c":21,"v":0},{"p":"D","s":"n7","c":23,"v":-0.001},{"p":"D","s":"n7","c":25,"v":0.001},{"p":"D","s":"n7","c":27,"v":0},{"p":"D","s":"n7","c":29,"v":-0.001},{"p":"D","s":"n7","c":31,"v":0},{"p":"D","s":"n7","c":33,"v":-0.002},{"p":"D","s":"n7","c":35,"v":-0.001},{"p":"D","s":"n7","c":37,"v":-0.003},{"p":"D","s":"n7","c":39,"v":-0.002},{"p":"D","s":"n7","c":41,"v":-0.003},{"p":"D","s":"n7","c":43,"v":-0.001},{"p":"D","s":"n7","c":45,"v":-0.002},
{"p":"D","s":"n8","c":1,"v":0.004},{"p":"D","s":"n8","c":2,"v":-0.002},{"p":"D","s":"n8","c":3,"v":-0.003},{"p":"D","s":"n8","c":5,"v":-0.002},{"p":"D","s":"n8","c":7,"v":-0.003},{"p":"D","s":"n8","c":9,"v":-0.002},{"p":"D","s":"n8","c":11,"v":-0.001},{"p":"D","s":"n8","c":13,"v":-0.003},{"p":"D","s":"n8","c":15,"v":-0.002},{"p":"D","s":"n8","c":17,"v":-0.004},{"p":"D","s":"n8","c":19,"v":-0.003},{"p":"D","s":"n8","c":21,"v":-0.002},{"p":"D","s":"n8","c":23,"v":-0.004},{"p":"D","s":"n8","c":25,"v":-0.003},{"p":"D","s":"n8","c":27,"v":-0.005},{"p":"D","s":"n8","c":29,"v":-0.004},{"p":"D","s":"n8","c":31,"v":-0.003},{"p":"D","s":"n8","c":33,"v":-0.004},{"p":"D","s":"n8","c":35,"v":-0.006},{"p":"D","s":"n8","c":37,"v":-0.005},{"p":"D","s":"n8","c":39,"v":-0.006},{"p":"D","s":"n8","c":41,"v":-0.004},{"p":"D","s":"n8","c":43,"v":-0.006},{"p":"D","s":"n8","c":45,"v":-0.005},
{"p":"D","s":"n9","c":1,"v":0.003},{"p":"D","s":"n9","c":2,"v":-0.001},{"p":"D","s":"n9","c":3,"v":-0.004},{"p":"D","s":"n9","c":5,"v":-0.001},{"p":"D","s":"n9","c":7,"v":-0.002},{"p":"D","s":"n9","c":9,"v":-0.004},{"p":"D","s":"n9","c":11,"v":-0.003},{"p":"D","s":"n9","c":13,"v":-0.005},{"p":"D","s":"n9","c":15,"v":-0.004},{"p":"D","s":"n9","c":17,"v":-0.006},{"p":"D","s":"n9","c":19,"v":-0.005},{"p":"D","s":"n9","c":21,"v":-0.004},{"p":"D","s":"n9","c":23,"v":-0.006},{"p":"D","s":"n9","c":25,"v":-0.005},{"p":"D","s":"n9","c":27,"v":-0.007},{"p":"D","s":"n9","c":29,"v":-0.006},{"p":"D","s":"n9","c":31,"v":-0.008},{"p":"D","s":"n9","c":33,"v":-0.007},{"p":"D","s":"n9","c":35,"v":-0.008},{"p":"D","s":"n9","c":37,"v":-0.006},{"p":"D","s":"n9","c":39,"v":-0.008},{"p":"D","s":"n9","c":41,"v":-0.007},{"p":"D","s":"n9","c":43,"v":-0.009},{"p":"D","s":"n9","c":45,"v":-0.007},
{"p":"D","s":"n10","c":1,"v":0.005},{"p":"D","s":"n10","c":2,"v":0},{"p":"D","s":"n10","c":3,"v":-0.002},{"p":"D","s":"n10","c":5,"v":0},{"p":"D","s":"n10","c":7,"v":0.001},{"p":"D","s":"n10","c":9,"v":0.002},{"p":"D","s":"n10","c":11,"v":0.003},{"p":"D","s":"n10","c":13,"v":0.002},{"p":"D","s":"n10","c":15,"v":0.004},{"p":"D","s":"n10","c":17,"v":0.003},{"p":"D","s":"n10","c":19,"v":0.002},{"p":"D","s":"n10","c":21,"v":0.004},{"p":"D","s":"n10","c":23,"v":0.003},{"p":"D","s":"n10","c":25,"v":0.002},{"p":"D","s":"n10","c":27,"v":0.001},{"p":"D","s":"n10","c":29,"v":0.002},{"p":"D","s":"n10","c":31,"v":0},{"p":"D","s":"n10","c":33,"v":0.001},{"p":"D","s":"n10","c":35,"v":-0.001},{"p":"D","s":"n10","c":37,"v":0},{"p":"D","s":"n10","c":39,"v":-0.001},{"p":"D","s":"n10","c":41,"v":-0.002},{"p":"D","s":"n10","c":43,"v":-0.003},{"p":"D","s":"n10","c":45,"v":-0.002}
]
},
"concat":[
{
 "width":460,"height":324,
 "title":{"text":"A"},
 "layer":[
  {"data":{"name":"curves"},"transform":[{"filter":"datum.p==='A'"}],
   "mark":{"type":"line","color":"#6a6a6a","strokeWidth":1.2,"interpolate":"monotone"},
   "encoding":{
    "x":{"field":"c","type":"quantitative","scale":{"domain":[1,45],"nice":false,"zero":false},"axis":{"values":[1,5,10,15,20,25,30,35,40,45],"title":"Cycles"}},
    "y":{"field":"v","type":"quantitative","scale":{"domain":[-0.458,5.03],"nice":false,"zero":false},"axis":{"values":[0,1,2,3,4,5],"format":".1f","title":"Fluorescence (483-670 nm)"}},
    "detail":{"field":"s"}}},
  {"data":{"name":"notes"},"transform":[{"filter":"datum.p==='A'"}],
   "mark":{"type":"text","fontStyle":"italic","fontSize":18,"font":"Liberation Serif","color":"#000"},
   "encoding":{"x":{"field":"c","type":"quantitative"},"y":{"field":"v","type":"quantitative"},"text":{"field":"t"}}},
  {"data":{"name":"arrows"},"transform":[{"filter":"datum.p==='A'"}],
   "mark":{"type":"rule","color":"#333","strokeWidth":1.3},
   "encoding":{"x":{"field":"c","type":"quantitative"},"y":{"field":"v","type":"quantitative"},"x2":{"field":"c2"},"y2":{"field":"v2"}}},
  {"data":{"name":"arrows"},"transform":[{"filter":"datum.id==='a'"}],
   "mark":{"type":"point","shape":"M0,0L-2,-0.6L-1.5,0L-2,0.6Z","size":190,"filled":true,"color":"#111","opacity":1,"strokeWidth":0,"angle":18.4},
   "encoding":{"x":{"field":"c2","type":"quantitative"},"y":{"field":"v2","type":"quantitative"}}}
 ]
},
{
 "width":462,"height":324,
 "title":{"text":"B"},
 "layer":[
  {"data":{"name":"curves"},"transform":[{"filter":"datum.p==='B'"}],
   "mark":{"type":"line","color":"#6a6a6a","strokeWidth":1.2,"interpolate":"monotone"},
   "encoding":{
    "x":{"field":"c","type":"quantitative","scale":{"domain":[1,45],"nice":false,"zero":false},"axis":{"values":[1,5,10,15,20,25,30,35,40,45],"title":"Cycles"}},
    "y":{"field":"v","type":"quantitative","scale":{"domain":[-0.061,0.643],"nice":false,"zero":false},"axis":{"values":[0,0.1,0.2,0.3,0.4,0.5,0.6],"format":".1f","title":"Fluorescence (483-670 nm)"}},
    "detail":{"field":"s"}}},
  {"data":{"name":"notes"},"transform":[{"filter":"datum.p==='B'"}],
   "mark":{"type":"text","fontStyle":"italic","fontSize":18,"font":"Liberation Serif","color":"#000"},
   "encoding":{"x":{"field":"c","type":"quantitative"},"y":{"field":"v","type":"quantitative"},"text":{"field":"t"}}},
  {"data":{"name":"arrows"},"transform":[{"filter":"datum.p==='B'"}],
   "mark":{"type":"rule","color":"#333","strokeWidth":1.3},
   "encoding":{"x":{"field":"c","type":"quantitative"},"y":{"field":"v","type":"quantitative"},"x2":{"field":"c2"},"y2":{"field":"v2"}}},
  {"data":{"name":"arrows"},"transform":[{"filter":"datum.id==='b1'"}],
   "mark":{"type":"point","shape":"M0,0L-2,-0.6L-1.5,0L-2,0.6Z","size":190,"filled":true,"color":"#111","opacity":1,"strokeWidth":0,"angle":17.8},
   "encoding":{"x":{"field":"c2","type":"quantitative"},"y":{"field":"v2","type":"quantitative"}}},
  {"data":{"name":"arrows"},"transform":[{"filter":"datum.id==='b2'"}],
   "mark":{"type":"point","shape":"M0,0L-2,-0.6L-1.5,0L-2,0.6Z","size":190,"filled":true,"color":"#111","opacity":1,"strokeWidth":0,"angle":22.8},
   "encoding":{"x":{"field":"c2","type":"quantitative"},"y":{"field":"v2","type":"quantitative"}}}
 ]
},
{
 "width":460,"height":330,
 "title":{"text":"C"},
 "layer":[
  {"data":{"name":"curves"},"transform":[{"filter":"datum.p==='C'"}],
   "mark":{"type":"line","color":"#6a6a6a","strokeWidth":1.2,"interpolate":"monotone"},
   "encoding":{
    "x":{"field":"c","type":"quantitative","scale":{"domain":[1,45],"nice":false,"zero":false},"axis":{"values":[1,5,10,15,20,25,30,35,40,45],"title":"Cycles"}},
    "y":{"field":"v","type":"quantitative","scale":{"domain":[-0.048,0.64],"nice":false,"zero":false},"axis":{"values":[0,0.1,0.2,0.3,0.4,0.5,0.6],"format":".1f","title":"Fluorescence (483-670 nm)"}},
    "detail":{"field":"s"}}},
  {"data":{"name":"notes"},"transform":[{"filter":"datum.p==='C'"}],
   "mark":{"type":"text","fontStyle":"italic","fontSize":18,"font":"Liberation Serif","color":"#000"},
   "encoding":{"x":{"field":"c","type":"quantitative"},"y":{"field":"v","type":"quantitative"},"text":{"field":"t"}}},
  {"data":{"name":"arrows"},"transform":[{"filter":"datum.p==='C'"}],
   "mark":{"type":"rule","color":"#333","strokeWidth":1.3},
   "encoding":{"x":{"field":"c","type":"quantitative"},"y":{"field":"v","type":"quantitative"},"x2":{"field":"c2"},"y2":{"field":"v2"}}},
  {"data":{"name":"arrows"},"transform":[{"filter":"datum.id==='c'"}],
   "mark":{"type":"point","shape":"M0,0L-2,-0.6L-1.5,0L-2,0.6Z","size":190,"filled":true,"color":"#111","opacity":1,"strokeWidth":0,"angle":18.1},
   "encoding":{"x":{"field":"c2","type":"quantitative"},"y":{"field":"v2","type":"quantitative"}}}
 ]
},
{
 "width":462,"height":330,
 "title":{"text":"D"},
 "layer":[
  {"data":{"name":"curves"},"transform":[{"filter":"datum.p==='D'"}],
   "mark":{"type":"line","color":"#6a6a6a","strokeWidth":1.2,"interpolate":"monotone"},
   "encoding":{
    "x":{"field":"c","type":"quantitative","scale":{"domain":[1,45],"nice":false,"zero":false},"axis":{"values":[1,5,10,15,20,25,30,35,40,45],"title":"Cycles"}},
    "y":{"field":"v","type":"quantitative","scale":{"domain":[-0.0356,0.209],"nice":false,"zero":false},"axis":{"values":[0,0.04,0.08,0.12,0.16,0.2],"format":".2f","title":"Fluorescence (483-670 nm)"}},
    "detail":{"field":"s"}}},
  {"data":{"name":"notes"},"transform":[{"filter":"datum.p==='D'"}],
   "mark":{"type":"text","fontStyle":"italic","fontSize":18,"font":"Liberation Serif","color":"#000"},
   "encoding":{"x":{"field":"c","type":"quantitative"},"y":{"field":"v","type":"quantitative"},"text":{"field":"t"}}},
  {"data":{"name":"arrows"},"transform":[{"filter":"datum.p==='D'"}],
   "mark":{"type":"rule","color":"#333","strokeWidth":1.3},
   "encoding":{"x":{"field":"c","type":"quantitative"},"y":{"field":"v","type":"quantitative"},"x2":{"field":"c2"},"y2":{"field":"v2"}}},
  {"data":{"name":"arrows"},"transform":[{"filter":"datum.id==='d1'"}],
   "mark":{"type":"point","shape":"M0,0L-2,-0.6L-1.5,0L-2,0.6Z","size":190,"filled":true,"color":"#111","opacity":1,"strokeWidth":0,"angle":17.8},
   "encoding":{"x":{"field":"c2","type":"quantitative"},"y":{"field":"v2","type":"quantitative"}}},
  {"data":{"name":"arrows"},"transform":[{"filter":"datum.id==='d2'"}],
   "mark":{"type":"point","shape":"M0,0L-2,-0.6L-1.5,0L-2,0.6Z","size":190,"filled":true,"color":"#111","opacity":1,"strokeWidth":0,"angle":-12.4},
   "encoding":{"x":{"field":"c2","type":"quantitative"},"y":{"field":"v2","type":"quantitative"}}}
 ]
}
]
}
